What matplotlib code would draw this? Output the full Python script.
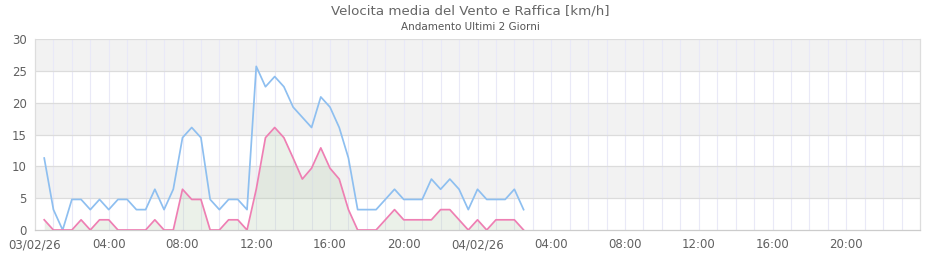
import numpy as np
import matplotlib
matplotlib.use("Agg")
import matplotlib.pyplot as plt

# half-hour samples, hours since 03/02/26 00:00
hours = np.arange(0.5, 27.0, 0.5)

# gust (Raffica) km/h
raffica = [11.3, 3.2, 0.0, 4.8, 4.8, 3.2, 4.8, 3.2, 4.8, 4.8,
           3.2, 3.2, 6.4, 3.2, 6.4, 14.5, 16.1, 14.5, 4.8, 3.2,
           4.8, 4.8, 3.2, 25.7, 22.5, 24.1, 22.5, 19.3, 17.7, 16.1,
           20.9, 19.3, 16.1, 11.3, 3.2, 3.2, 3.2, 4.8, 6.4, 4.8,
           4.8, 4.8, 8.0, 6.4, 8.0, 6.4, 3.2, 6.4, 4.8, 4.8,
           4.8, 6.4, 3.2]

# mean wind km/h
media = [1.6, 0.0, 0.0, 0.0, 1.6, 0.0, 1.6, 1.6, 0.0, 0.0,
         0.0, 0.0, 1.6, 0.0, 0.0, 6.4, 4.8, 4.8, 0.0, 0.0,
         1.6, 1.6, 0.0, 6.4, 14.5, 16.1, 14.5, 11.3, 8.0, 9.7,
         12.9, 9.7, 8.0, 3.2, 0.0, 0.0, 0.0, 1.6, 3.2, 1.6,
         1.6, 1.6, 1.6, 3.2, 3.2, 1.6, 0.0, 1.6, 0.0, 1.6,
         1.6, 1.6, 0.0]

tick_hours = np.arange(0, 48, 4)
tick_labels = ["03/02/26", "04:00", "08:00", "12:00", "16:00", "20:00",
               "04/02/26", "04:00", "08:00", "12:00", "16:00", "20:00"]

fig = plt.figure(figsize=(9.4, 2.6), dpi=100)
ax = fig.add_axes([35 / 940, 1 - 230 / 260, 885 / 940, 191 / 260])

ax.set_xlim(0, 48)
ax.set_ylim(0, 30)

# alternating bands
for lo in (5, 15, 25):
    ax.axhspan(lo, lo + 5, color="#f2f2f2", zorder=0, lw=0)

# grid
for h in range(1, 48):
    ax.axvline(h, color="#e9e9f7", lw=0.8, zorder=1)
for v in range(5, 31, 5):
    ax.axhline(v, color="#dcdcdc", lw=0.9, zorder=1)

ax.fill_between(hours, media, 0, color="#b3cbab", alpha=0.25, lw=0, zorder=2)
ax.plot(hours, raffica, color="#8ebff0", lw=1.25, zorder=3)
ax.plot(hours, media, color="#ee7fb3", lw=1.25, zorder=3)

ax.set_xticks(tick_hours)
ax.set_xticklabels(tick_labels)
ax.set_yticks(range(0, 31, 5))
ax.tick_params(length=0, labelsize=8.5, colors="#606060", pad=6)

for s in ax.spines.values():
    s.set_color("#dddddd")
    s.set_linewidth(0.9)
ax.spines["top"].set_visible(False)
ax.spines["bottom"].set_color("#cccccc")

fig.text(0.5, 1 - 11 / 260, "Velocita media del Vento e Raffica [km/h]",
         ha="center", va="center", fontsize=9.6, color="#666666")
fig.text(0.5, 1 - 27 / 260, "Andamento Ultimi 2 Giorni",
         ha="center", va="center", fontsize=7.5, color="#555555")

fig.savefig("out.png", dpi=100)
